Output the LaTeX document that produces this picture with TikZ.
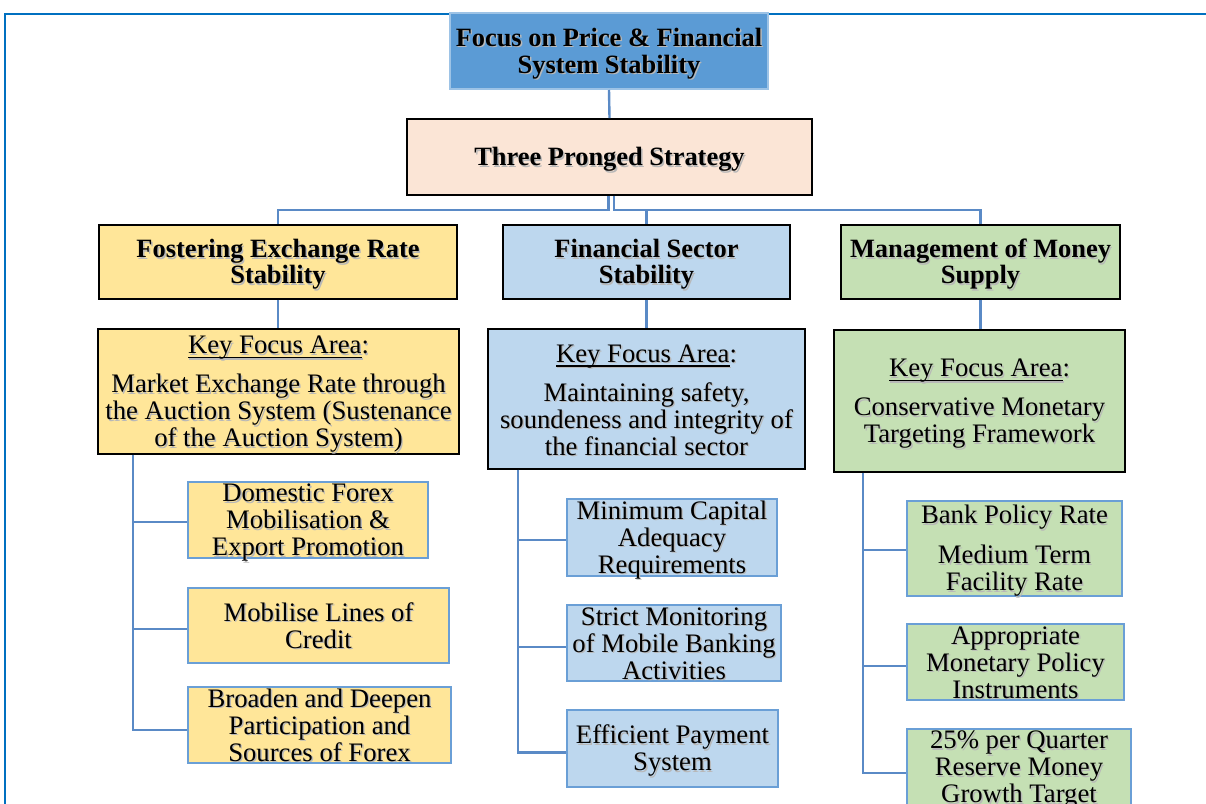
\documentclass[tikz,border=0pt]{standalone}
\usepackage{fontspec}
\setmainfont{Liberation Serif}
\definecolor{frameblue}{HTML}{0070C0}
\definecolor{topfill}{HTML}{5B9BD5}
\definecolor{topedge}{HTML}{9DC3E6}
\definecolor{peach}{HTML}{FBE5D6}
\definecolor{yel}{HTML}{FFE699}
\definecolor{lblue}{HTML}{BDD7EE}
\definecolor{lgreen}{HTML}{C5E0B4}
\definecolor{conn}{HTML}{5A8AC6}
\definecolor{leafedge}{HTML}{6A9FD6}
\newcommand\shd[1]{\leavevmode\rlap{\kern1.4pt\raisebox{-1.4pt}{\textcolor{black!28}{#1}}}#1}
\newcommand\kfaul[1]{\setbox0\hbox{#1}\rlap{\rule[-4.5pt]{\wd0}{1.4pt}}\box0}
\newcommand\tx[1]{\rule{0pt}{25pt}#1\rule[-6pt]{0pt}{6pt}}
\tikzset{
  base/.style={rectangle, inner xsep=0pt, inner ysep=-12pt, align=center, text=black},
  headbox/.style={base, draw=black, line width=1.8pt, font=\fontsize{26.4}{26}\selectfont\bfseries},
  focusbox/.style={base, draw=black, line width=1.8pt, font=\fontsize{26.7}{27}\selectfont},
  leafbox/.style={base, draw=leafedge, line width=2.6pt, font=\fontsize{26.7}{27}\selectfont},
  link/.style={draw=conn, line width=2.4pt},
}
\begin{document}
\begin{tikzpicture}[x=1pt,y=-1pt]
\useasboundingbox (0,0) rectangle (1206,803);
\begin{scope}
\clip (0,0) rectangle (1206,803);
% outer frame
\coordinate (frTL) at (5,14);
\coordinate (frTR) at (1210,14);
\coordinate (frBL) at (5,810);
\draw[frameblue, line width=2pt] (frTR) -- (frTL) -- (frBL);

% top
\node[base, fill=topfill, draw=topedge, line width=2pt, minimum width=318pt, minimum height=76pt,
  font=\fontsize{26.4}{27}\selectfont\bfseries] (top) at (609,51)
  {\tx{\shd{Focus on Price \& Financial}\\\shd{System Stability}}};
\node[headbox, fill=peach, minimum width=405pt, minimum height=76pt] (three) at (609.5,157)
  {\tx{\shd{Three Pronged Strategy}}};

% level 2
\node[headbox, fill=yel, minimum width=358pt, minimum height=74pt] (l2a) at (278,262)
  {\tx{\shd{Fostering Exchange Rate}\\\shd{Stability}}};
\node[headbox, fill=lblue, minimum width=287pt, minimum height=74pt] (l2b) at (646.5,262)
  {\tx{\shd{Financial Sector}\\\shd{Stability}}};
\node[headbox, fill=lgreen, minimum width=279pt, minimum height=74pt] (l2c) at (980.5,262)
  {\tx{\shd{Management of Money}\\\shd{Supply}}};

% level 3
\node[focusbox, fill=yel, minimum width=361pt, minimum height=125pt] (l3a) at (278.5,391.5)
  {\tx{\shd{\kfaul{Key Focus Area}:}\\[12pt]\shd{Market Exchange Rate through}\\\shd{the Auction System (Sustenance}\\\shd{of the Auction System)}}};
\node[focusbox, fill=lblue, minimum width=317pt, minimum height=140pt] (l3b) at (646.5,399)
  {\tx{\shd{\kfaul{Key Focus Area}:}\\[12pt]\shd{Maintaining safety,}\\\shd{soundeness and integrity of}\\\shd{the financial sector}}};
\node[focusbox, fill=lgreen, minimum width=291pt, minimum height=142pt] (l3c) at (979.5,401)
  {\tx{\shd{\kfaul{Key Focus Area}:}\\[12pt]\shd{Conservative Monetary}\\\shd{Targeting Framework}}};

% leaves left
\node[leafbox, fill=yel, minimum width=240pt, minimum height=76pt] (a1) at (308,520)
  {\tx{\shd{Domestic Forex}\\\shd{Mobilisation \&}\\\shd{Export Promotion}}};
\node[leafbox, fill=yel, minimum width=261pt, minimum height=75pt] (a2) at (318.5,625.5)
  {\tx{\shd{Mobilise Lines of}\\\shd{Credit}}};
\node[leafbox, fill=yel, minimum width=263pt, minimum height=76pt] (a3) at (319.5,725)
  {\tx{\shd{Broaden and Deepen}\\\shd{Participation and}\\\shd{Sources of Forex}}};

% leaves middle
\node[leafbox, fill=lblue, minimum width=210pt, minimum height=77pt] (b1) at (672,537.5)
  {\tx{\shd{Minimum Capital}\\\shd{Adequacy}\\\shd{Requirements}}};
\node[leafbox, fill=lblue, minimum width=214pt, minimum height=76pt] (b2) at (674,643)
  {\tx{\shd{Strict Monitoring}\\\shd{of Mobile Banking}\\\shd{Activities}}};
\node[leafbox, fill=lblue, minimum width=211pt, minimum height=77pt] (b3) at (672.5,748.5)
  {\tx{\shd{Efficient Payment}\\\shd{System}}};

% leaves right
\node[leafbox, fill=lgreen, minimum width=215pt, minimum height=95pt] (c1) at (1014.5,548.5)
  {\tx{\shd{Bank Policy Rate}\\[13pt]\shd{Medium Term}\\\shd{Facility Rate}}};
\node[leafbox, fill=lgreen, minimum width=217pt, minimum height=76pt] (c2) at (1015.5,662)
  {\tx{\shd{Appropriate}\\\shd{Monetary Policy}\\\shd{Instruments}}};
\node[leafbox, fill=lgreen, minimum width=224pt, minimum height=76pt] (c3) at (1019,767)
  {\tx{\shd{25\% per Quarter}\\\shd{Reserve Money}\\\shd{Growth Target}}};

% connectors
\draw[link] (top.south) -- (three.north);
\draw[link] ([xshift=-1pt]three.south) -- ++(0,14) -| (l2a.north);
\draw[link] ([xshift=4.5pt]three.south) -- ++(0,14) -| (l2b.north);
\draw[link] ([xshift=4.5pt]three.south) -- ++(0,14) -| (l2c.north);
\draw[link] (l2a.south) -- (l2a.south |- l3a.north);
\draw[link] (l2b.south) -- (l2b.south |- l3b.north);
\draw[link] (l2c.south) -- (l2c.south |- l3c.north);

\draw[link] ([xshift=36pt]l3a.south west) |- ([yshift=-2pt]a1.west);
\draw[link] ([xshift=36pt]l3a.south west) |- ([yshift=-3.5pt]a2.west);
\draw[link] ([xshift=36pt]l3a.south west) |- ([yshift=-5pt]a3.west);
\draw[link] ([xshift=31pt]l3b.south west) |- ([yshift=-2.5pt]b1.west);
\draw[link] ([xshift=31pt]l3b.south west) |- ([yshift=-4pt]b2.west);
\draw[link] ([xshift=31pt]l3b.south west) |- ([yshift=-4pt]b3.west);
\draw[link] ([xshift=30pt]l3c.south west) |- ([yshift=-1.5pt]c1.west);
\draw[link] ([xshift=30pt]l3c.south west) |- ([yshift=-4pt]c2.west);
\draw[link] ([xshift=30pt]l3c.south west) |- ([yshift=-6pt]c3.west);
\end{scope}
\end{tikzpicture}
\end{document}
